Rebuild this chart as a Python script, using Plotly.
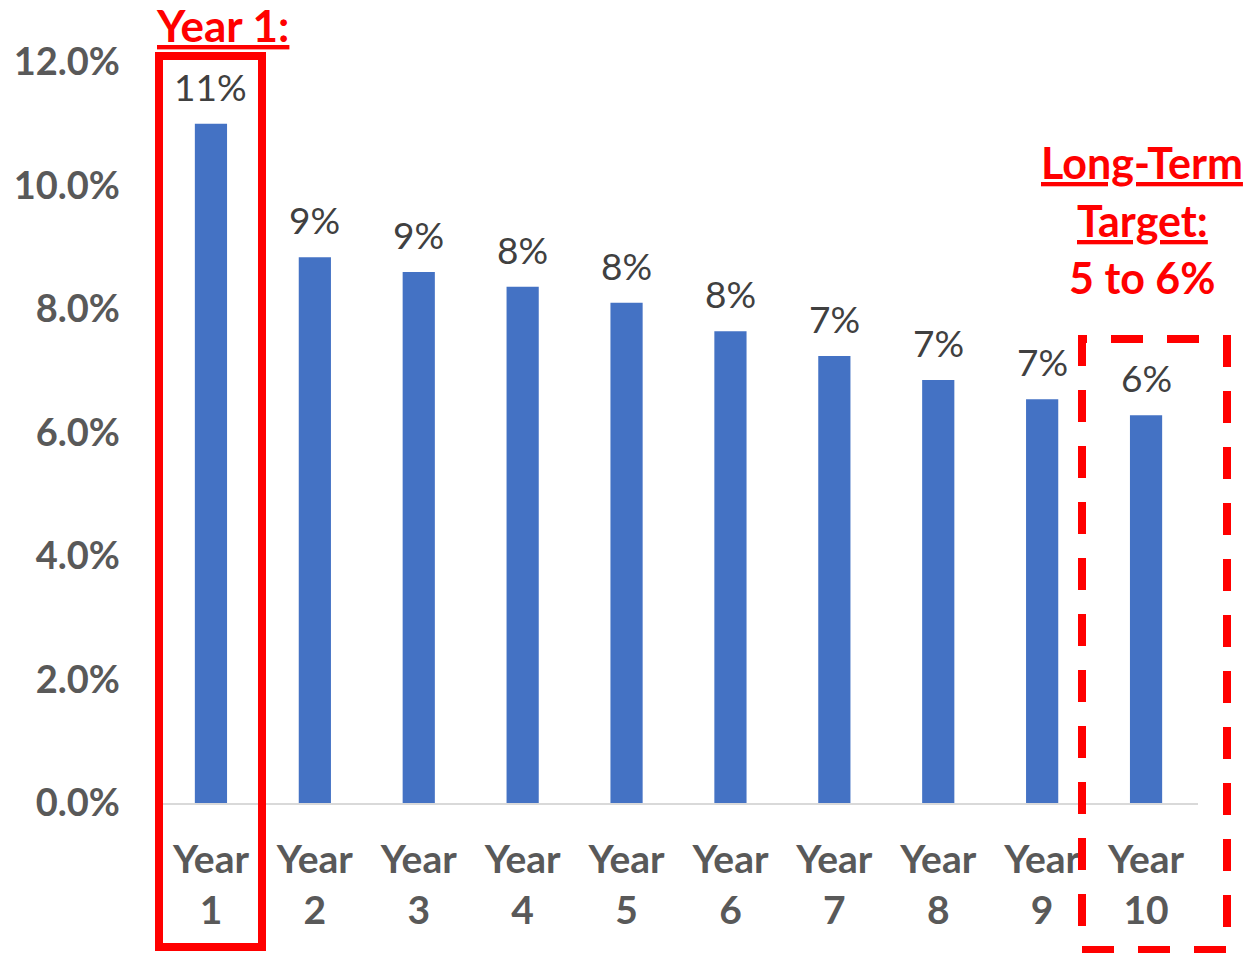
import plotly.graph_objects as go

categories = ["Year<br>1", "Year<br>2", "Year<br>3", "Year<br>4", "Year<br>5",
              "Year<br>6", "Year<br>7", "Year<br>8", "Year<br>9", "Year<br>10"]
values = [0.110, 0.0884, 0.0860, 0.0836, 0.0810, 0.0764, 0.0724, 0.0685, 0.0654, 0.0628]
y_ticks = [0, 0.02, 0.04, 0.06, 0.08, 0.10, 0.12]

BLUE = "#4472C4"
RED = "#FF0000"
GRAY = "#595959"
DGRAY = "#404040"
FONT = "Lato"

W, H = 1248, 953
L, R, T, B = 159, 50, 62, 150
pw, ph = W - L - R, H - T - B

def px(x):
    return (x - L) / pw

def py(y):
    return (H - B - y) / ph

fig = go.Figure()
fig.add_trace(go.Bar(
    x=categories, y=values, marker=dict(color=BLUE, line=dict(width=0)),
    hoverinfo="skip",
))

for c, v in zip(categories, values):
    fig.add_annotation(x=c, y=v, xref="x", yref="y", text=f"{round(v*100)}%",
                       showarrow=False, yanchor="bottom", yshift=13,
                       font=dict(family=FONT, size=37, color=DGRAY))

# Year 1 box
fig.add_shape(type="rect", xref="paper", yref="paper",
              x0=px(159), x1=px(262), y0=py(947), y1=py(56),
              line=dict(color=RED, width=8), fillcolor="rgba(0,0,0,0)", layer="above")
# Year 10 dashed box
fig.add_shape(type="rect", xref="paper", yref="paper",
              x0=px(1082), x1=px(1227), y0=py(950), y1=py(339),
              line=dict(color=RED, width=8, dash="32px,24px"),
              fillcolor="rgba(0,0,0,0)", layer="above")

fig.add_annotation(xref="paper", yref="paper", x=px(222), y=py(25), text="<b><u>Year 1:</u></b>",
                   showarrow=False, xanchor="center", yanchor="middle",
                   font=dict(family=FONT, size=44, color=RED))
for txt, yy in [("<b><u>Long-Term</u></b>", 163), ("<b><u>Target:</u></b>", 220), ("<b>5 to 6%</b>", 277)]:
    fig.add_annotation(xref="paper", yref="paper", x=px(1142), y=py(yy), text=txt,
                       showarrow=False, xanchor="center", yanchor="middle",
                       font=dict(family=FONT, size=43, color=RED))

fig.update_layout(
    width=W, height=H,
    margin=dict(l=L, r=R, t=T, b=B, autoexpand=False),
    paper_bgcolor="white", plot_bgcolor="white",
    showlegend=False, bargap=0.69,
    font=dict(family=FONT),
)
fig.update_xaxes(
    showline=True, linecolor="#D9D9D9", linewidth=2, showgrid=False, ticks="",
    tickfont=dict(family=FONT, size=39, color=GRAY, weight="bold"),
    ticklabelstandoff=21,
)
fig.update_yaxes(
    range=[0, 0.12], tickvals=y_ticks, tickformat=".1%", showgrid=False,
    zeroline=False, showline=False, ticks="",
    tickfont=dict(family=FONT, size=38, color=GRAY, weight="bold"),
    ticklabelstandoff=38,
)

fig.write_html("out.html")
